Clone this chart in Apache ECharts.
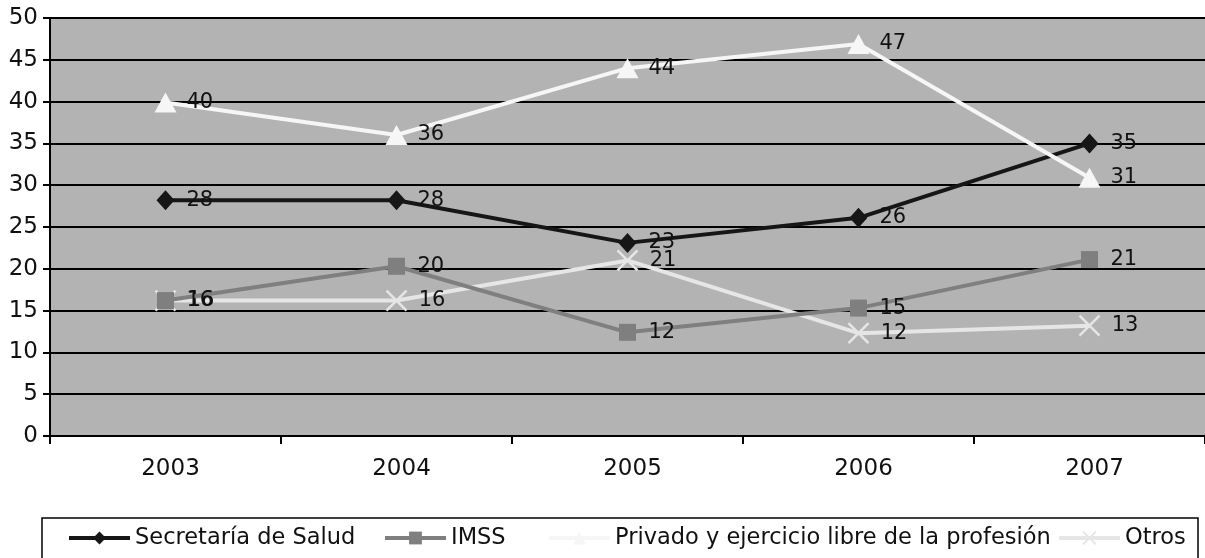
<!DOCTYPE html>
<html><head><meta charset="utf-8">
<script src="https://cdn.jsdelivr.net/npm/echarts@6/dist/echarts.min.js"></script>
<style>html,body{margin:0;padding:0;background:#fff}#c{width:1205px;height:558px}</style>
</head><body><div id="c"></div>
<script>
const categories = ['2003','2004','2005','2006','2007'];
const secretaria = [28.2, 28.2, 23.1, 26.1, 35.0];
const imss = [16.2, 20.3, 12.4, 15.3, 21.1];
const privado = [39.9, 36.0, 44.0, 46.9, 30.9];
const otros = [16.2, 16.2, 21.0, 12.3, 13.2];
const seriesNames = ['Secretaría de Salud','IMSS','Privado y ejercicio libre de la profesión','Otros'];
const yTicks = [0, 50, 5];

const FONT = 'DejaVu Sans';
const chart = echarts.init(document.getElementById('c'));
function lbl(dist){
  return {show:true, position:'right', distance:dist, color:'#111', fontFamily:FONT, fontSize:21,
    formatter: p => Math.round(p.value)};
}
const XPATH = 'path://M0,0L10,10M10,0L0,10';
const legendLefts = [67, 383, 547, 1057];
const legends = seriesNames.map((n,i)=>({
  data:[n], left:legendLefts[i], top:526, padding:0, itemWidth:61, itemHeight:16,
  lineStyle:{width:4},
  textStyle:{color:'#111', fontSize:22.5, fontFamily:FONT, lineHeight:24}
}));
chart.setOption({
  animation:false,
  textStyle:{fontFamily:FONT},
  grid:{left:50, top:18, width:1160, height:418, show:true, backgroundColor:'#b3b3b3', borderWidth:0},
  xAxis:{type:'category', data:categories,
    axisLine:{lineStyle:{color:'#000', width:2}},
    axisTick:{show:true, length:8, lineStyle:{color:'#000', width:2}},
    axisLabel:{color:'#111', fontSize:23, fontFamily:FONT, margin:22, padding:[0,0,0,10]}},
  yAxis:{type:'value', min:yTicks[0], max:yTicks[1], interval:yTicks[2],
    axisLine:{show:true, lineStyle:{color:'#000', width:2}},
    axisTick:{show:true, length:7, lineStyle:{color:'#000', width:2}},
    splitLine:{lineStyle:{color:'#000', width:2}},
    axisLabel:{color:'#111', fontSize:23, fontFamily:FONT, margin:12}},
  legend:legends,
  graphic:[{type:'rect', shape:{x:42, y:518, width:1156, height:60},
    style:{fill:'none', stroke:'#000', lineWidth:1.5}, z:-1}],
  series:[
    {name:seriesNames[3], type:'line', data:otros, z:2, symbol:XPATH, symbolSize:20,
      lineStyle:{color:'#e6e6e6', width:4},
      itemStyle:{color:'#e6e6e6', borderColor:'#e6e6e6', borderWidth:2.5}, label:lbl(11)},
    {name:seriesNames[1], type:'line', data:imss, z:3, symbol:'rect', symbolSize:17,
      lineStyle:{color:'#7f7f7f', width:4}, itemStyle:{color:'#7f7f7f'}, label:lbl(12.5)},
    {name:seriesNames[0], type:'line', data:secretaria, z:4, symbol:'diamond', symbolSize:[18,20],
      lineStyle:{color:'#161616', width:4}, itemStyle:{color:'#161616'}, label:lbl(12)},
    {name:seriesNames[2], type:'line', data:privado, z:5, symbol:'triangle', symbolSize:[22,20],
      lineStyle:{color:'#f6f6f6', width:4}, itemStyle:{color:'#f6f6f6'}, label:lbl(10)}
  ]
});
</script></body></html>
